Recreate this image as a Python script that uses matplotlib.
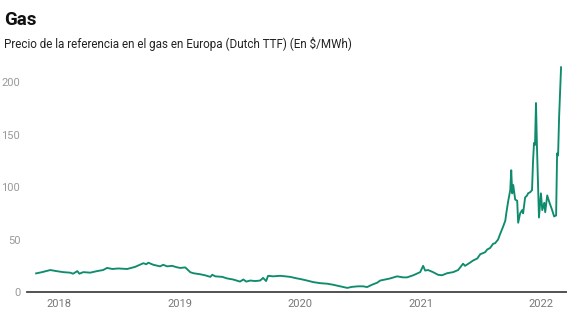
import pandas as pd
import matplotlib.pyplot as plt

plt.rcParams["font.family"] = ["Roboto", "DejaVu Sans"]

# Dutch TTF gas price
dates = [
    "2017-10-23", "2017-11-10", "2017-12-05", "2017-12-23", "2018-01-13",
    "2018-02-03", "2018-02-12", "2018-02-25", "2018-03-03", "2018-03-15",
    "2018-04-05", "2018-04-26", "2018-05-14", "2018-05-26", "2018-06-11",
    "2018-06-29", "2018-07-26", "2018-08-19", "2018-09-13", "2018-09-22",
    "2018-09-28", "2018-10-13", "2018-11-03", "2018-11-12", "2018-11-24",
    "2018-12-09", "2018-12-25", "2019-01-03", "2019-01-18", "2019-02-02",
    "2019-02-11", "2019-03-04", "2019-03-19", "2019-04-04", "2019-04-10",
    "2019-04-19", "2019-05-10", "2019-05-25", "2019-06-12", "2019-07-03",
    "2019-07-13", "2019-07-22", "2019-08-03", "2019-08-18", "2019-09-02",
    "2019-09-11", "2019-09-20", "2019-09-26", "2019-10-11", "2019-11-02",
    "2019-11-17", "2019-12-02", "2019-12-23", "2020-01-01", "2020-01-22",
    "2020-02-10", "2020-03-02", "2020-03-23", "2020-04-10", "2020-05-01",
    "2020-05-23", "2020-06-07", "2020-06-25", "2020-07-10", "2020-07-22",
    "2020-08-06", "2020-08-22", "2020-08-31", "2020-09-15", "2020-09-30",
    "2020-10-21", "2020-11-08", "2020-11-20", "2020-12-09", "2020-12-30",
    "2021-01-08", "2021-01-14", "2021-01-23", "2021-02-07", "2021-02-22",
    "2021-03-06", "2021-03-22", "2021-04-09", "2021-04-24", "2021-05-09",
    "2021-05-15", "2021-05-30", "2021-06-08", "2021-06-21", "2021-06-30",
    "2021-07-15", "2021-07-21", "2021-07-30", "2021-08-08", "2021-08-14",
    "2021-08-23", "2021-08-29", "2021-09-07", "2021-09-14", "2021-09-17",
    "2021-09-23", "2021-09-29", "2021-10-02", "2021-10-05", "2021-10-08",
    "2021-10-14", "2021-10-20", "2021-10-23", "2021-10-29", "2021-11-04",
    "2021-11-07", "2021-11-13", "2021-11-19", "2021-11-22", "2021-11-28",
    "2021-12-04", "2021-12-07", "2021-12-10", "2021-12-13", "2021-12-16",
    "2021-12-19", "2021-12-25", "2021-12-31", "2022-01-04", "2022-01-10",
    "2022-01-13", "2022-01-19", "2022-01-25", "2022-02-03", "2022-02-09",
    "2022-02-15", "2022-02-18", "2022-02-21", "2022-02-24", "2022-03-02",
]
prices = [
    17.8, 19, 21, 20, 19,
    18.5, 17.5, 20, 17.5, 19,
    18.5, 20, 21, 23, 22,
    22.5, 22, 24, 27.5, 26.5,
    28, 26, 24.5, 26, 24.5,
    25, 23.5, 23, 23.5, 19,
    18, 17, 16, 14.5, 16.5,
    15, 14.5, 13, 12, 10,
    12, 10, 11, 10.5, 11,
    13.5, 10.5, 15.5, 15, 15.5,
    15, 14.5, 13, 12.5, 11,
    9.5, 8.5, 8, 7, 5.5,
    4, 5, 5.5, 5.5, 4.8,
    7, 9, 11, 12, 13,
    15, 14, 14, 16, 19,
    25, 20.5, 21, 19, 16.5,
    16, 18, 19, 21, 27,
    25, 28, 30, 32, 36,
    38, 40.5, 42, 46, 46.5,
    50, 55, 62, 68, 75,
    87, 97, 116, 94, 102,
    88, 87, 66, 75, 78,
    75, 90, 92, 94, 95,
    97, 124, 142, 140, 180,
    138, 71, 94, 78, 85,
    76, 92, 86, 78, 72,
    73, 132, 130, 166, 214,
]
years = ["2018", "2019", "2020", "2021", "2022"]

df = pd.DataFrame({"date": pd.to_datetime(dates), "price": prices})

fig = plt.figure(figsize=(5.67, 3.26), dpi=100)
ax = fig.add_axes([0.048, 0.104, 0.952, 0.709])

ax.plot(df["date"], df["price"], color="#0f8b6d", linewidth=1.35)

ax.set_ylim(0, 220)
ax.set_xlim(pd.Timestamp("2017-09-26"), pd.Timestamp("2022-03-20"))
ax.set_yticks([0, 50, 100, 150, 200])
ax.set_xticks(pd.to_datetime([y + "-01-01" for y in years]))
ax.set_xticklabels(years)

for s in ["top", "right", "left"]:
    ax.spines[s].set_visible(False)
ax.spines["bottom"].set_color("#444444")
ax.spines["bottom"].set_linewidth(1.3)
ax.tick_params(axis="y", length=0, pad=5, labelsize=8, labelcolor="#999999")
ax.tick_params(axis="x", length=0, pad=5, labelsize=8, labelcolor="#777777")

fig.text(0.007, 0.965, "Gas", fontsize=13.5, fontweight="bold", va="top", color="#111111")
fig.text(0.007, 0.885, "Precio de la referencia en el gas en Europa (Dutch TTF) (En $/MWh)",
         fontsize=8.4, va="top", color="#222222")

fig.savefig("out.png", dpi=100)
